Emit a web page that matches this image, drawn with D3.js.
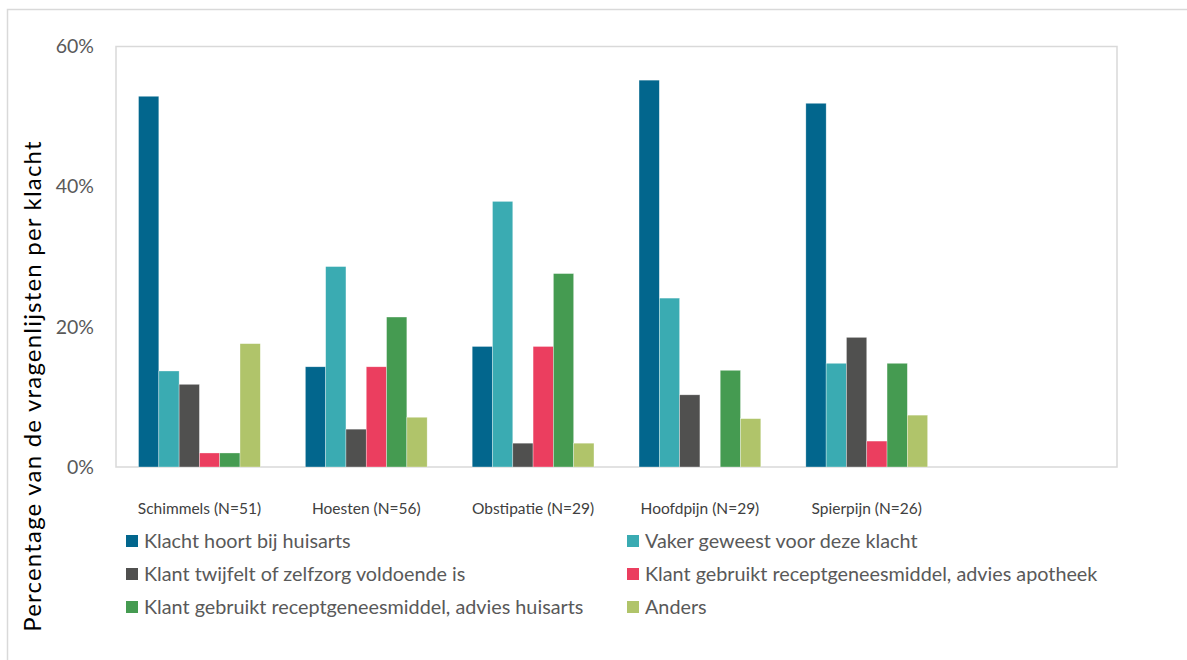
<!DOCTYPE html>
<html>
<head>
<meta charset="utf-8">
<script src="https://cdn.jsdelivr.net/npm/d3@7"></script>
<style>
  body { margin: 0; background: #fff; }
</style>
</head>
<body>
<svg></svg>
<script>
// klachten (categorieen) en reeksen
const categories = ['Schimmels (N=51)', 'Hoesten (N=56)', 'Obstipatie (N=29)', 'Hoofdpijn (N=29)', 'Spierpijn (N=26)', ''];
const seriesNames = [
  'Klacht hoort bij huisarts',
  'Vaker geweest voor deze klacht',
  'Klant twijfelt of zelfzorg voldoende is',
  'Klant gebruikt receptgeneesmiddel, advies apotheek',
  'Klant gebruikt receptgeneesmiddel, advies huisarts',
  'Anders'
];
const huisarts = [52.9, 14.3, 17.2, 55.2, 51.9];
const vakerGeweest = [13.7, 28.6, 37.9, 24.1, 14.8];
const twijfelt = [11.8, 5.4, 3.4, 10.3, 18.5];
const adviesApotheek = [2.0, 14.3, 17.2, 0, 3.7];
const adviesHuisarts = [2.0, 21.4, 27.6, 13.8, 14.8];
const anders = [17.6, 7.1, 3.4, 6.9, 7.4];
const yTicks = [0, 20, 40, 60];
const colors = ['#02668D', '#3AABB2', '#50504F', '#EB3E5F', '#459B51', '#B0C46A'];

const WIDTH = 1187;
const HEIGHT = 660;
const PLOT_LEFT = 116;
const PLOT_RIGHT = 1117;
const PLOT_TOP = 46.5;
const PLOT_BOTTOM = 467;

const seriesValues = [huisarts, vakerGeweest, twijfelt, adviesApotheek, adviesHuisarts, anders];

const svg = d3.select('svg').
attr('width', WIDTH).
attr('height', HEIGHT).
attr('font-family', 'Lato, sans-serif');

// buitenrand
svg.append('rect').
attr('x', 7.5).
attr('y', 9.5).
attr('width', WIDTH + 10).
attr('height', HEIGHT + 10).
attr('fill', 'none').
attr('stroke', '#D9D9D9').
attr('stroke-width', 1.5);

const x0 = d3.scaleBand().
domain(categories).
range([PLOT_LEFT, PLOT_RIGHT]).
paddingInner(0.27).
paddingOuter(0.135);

const x1 = d3.scaleBand().
domain(d3.range(seriesNames.length)).
range([0, x0.bandwidth()]);

const y = d3.scaleLinear().
domain([0, 60]).
range([PLOT_BOTTOM, PLOT_TOP]);

// plotgebied
svg.append('rect').
attr('x', PLOT_LEFT).
attr('y', PLOT_TOP).
attr('width', PLOT_RIGHT - PLOT_LEFT).
attr('height', PLOT_BOTTOM - PLOT_TOP).
attr('fill', 'none').
attr('stroke', '#D9D9D9').
attr('stroke-width', 1.5);

// staven
const groups = svg.append('g').
selectAll('g').
data(categories.slice(0, huisarts.length)).
enter().
append('g').
attr('transform', d => `translate(${x0(d)},0)`);

groups.selectAll('rect').
data((d, i) => seriesValues.map((s, k) => ({ k: k, v: s[i] }))).
enter().
append('rect').
attr('x', d => x1(d.k)).
attr('y', d => y(d.v)).
attr('width', x1.bandwidth()).
attr('height', d => y(0) - y(d.v)).
attr('fill', d => colors[d.k]).
attr('stroke', d => d.v > 0 ? 'rgba(255,255,255,0.55)' : 'none').
attr('stroke-width', 0.6);

// y-as
const yAxis = d3.axisLeft(y).
tickValues(yTicks).
tickFormat(d => `${d}%`).
tickSize(0).
tickPadding(22);

svg.append('g').
attr('transform', `translate(${PLOT_LEFT},0)`).
call(yAxis).
call(g => g.select('.domain').remove()).
selectAll('text').
attr('font-family', 'Lato, sans-serif').
attr('font-size', '19.5px').
attr('fill', '#595959');

// x-as labels
const xAxis = d3.axisBottom(x0).
tickSize(0).
tickPadding(36);

svg.append('g').
attr('transform', `translate(0,${PLOT_BOTTOM})`).
call(xAxis).
call(g => g.select('.domain').remove()).
selectAll('text').
attr('font-family', 'Lato, sans-serif').
attr('font-size', '15.5px').
attr('fill', '#404040');

// y-as titel
svg.append('text').
attr('transform', `translate(41, 386) rotate(-90)`).
attr('text-anchor', 'middle').
attr('font-size', '24px').
attr('letter-spacing', '1.2px').
attr('fill', '#000').
text('Percentage van de vragenlijsten per klacht');

// legenda
const legendX = [126, 627];
const legendY = [541, 574, 607];

const legend = svg.append('g').
selectAll('g').
data(seriesNames).
enter().
append('g').
attr('transform', (d, i) => `translate(${legendX[i % 2]},${legendY[Math.floor(i / 2)]})`);

legend.append('rect').
attr('x', 0).
attr('y', -6).
attr('width', 12).
attr('height', 12).
attr('fill', (d, i) => colors[i]);

legend.append('text').
attr('x', 18).
attr('dy', '0.35em').
attr('font-size', '19.8px').
attr('fill', '#595959').
text(d => d);
</script>
</body>
</html>
